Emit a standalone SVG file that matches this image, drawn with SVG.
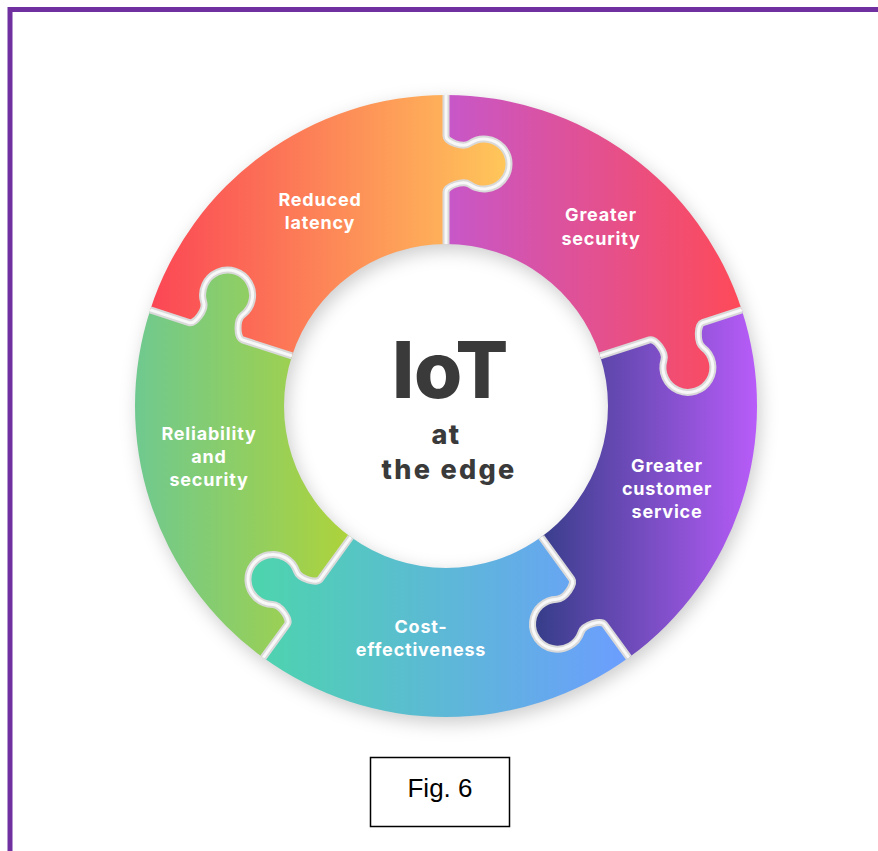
<svg xmlns="http://www.w3.org/2000/svg" xmlns:xlink="http://www.w3.org/1999/xlink" width="878" height="851" viewBox="0 0 878 851">
  <style>
    .lbl { font-family: Inter, "Open Sans", "DejaVu Sans", sans-serif; font-weight: 700; font-size: 18px; fill: #ffffff; text-anchor: middle; letter-spacing: 0.8px; }
    .ctr { font-family: Inter, "Open Sans", "DejaVu Sans", sans-serif; font-weight: 800; fill: #3a3a3a; text-anchor: middle; }
    .seamA { fill: none; stroke: #d9d9d9; stroke-width: 7; }
    .seamB { fill: none; stroke: #f8f8f8; stroke-width: 3; }
    .fig { font-family: "Liberation Sans", Arial, sans-serif; font-size: 26px; fill: #000; text-anchor: middle; }
  </style>
  <defs>
    <filter id="blur" x="-20%" y="-20%" width="140%" height="140%">
      <feGaussianBlur stdDeviation="9"/>
    </filter>
    <linearGradient id="g0" gradientUnits="userSpaceOnUse" x1="1" y1="0" x2="296" y2="0">
      <stop offset="0" stop-color="#c757c9"/>
      <stop offset="1" stop-color="#fe4a58"/>
    </linearGradient>
    <linearGradient id="g1" gradientUnits="userSpaceOnUse" x1="95" y1="0" x2="311" y2="0" gradientTransform="rotate(-72)">
      <stop offset="0" stop-color="#393e8c"/>
      <stop offset="1" stop-color="#b85cf9"/>
    </linearGradient>
    <linearGradient id="g2" gradientUnits="userSpaceOnUse" x1="-183" y1="0" x2="183" y2="0" gradientTransform="rotate(-144)">
      <stop offset="0" stop-color="#4ed3af"/>
      <stop offset="1" stop-color="#6c9dff"/>
    </linearGradient>
    <linearGradient id="g3" gradientUnits="userSpaceOnUse" x1="-311" y1="0" x2="-95" y2="0" gradientTransform="rotate(-216)">
      <stop offset="0" stop-color="#6fc98f"/>
      <stop offset="1" stop-color="#aed33a"/>
    </linearGradient>
    <linearGradient id="g4" gradientUnits="userSpaceOnUse" x1="-296" y1="0" x2="64" y2="0" gradientTransform="rotate(-288)">
      <stop offset="0" stop-color="#fb4655"/>
      <stop offset="1" stop-color="#ffc85a"/>
    </linearGradient>
    <path id="piece" d="M 0,-311 A 311 311 0 0 1 295.78,-96.10 L 256.79,-83.43 C 251.08,-81.58 250.56,-63.43 256.97,-58.58 A 25 25 0 1 1 217.98,-45.91 C 220.32,-53.61 209.23,-67.98 203.53,-66.13 L 154.07,-50.06 A 162 162 0 0 0 0,-162 L 0,-214 C 0,-220 17.1,-226.1 23.7,-221.5 A 25 25 0 1 0 23.7,-262.5 C 17.1,-257.9 0,-264 0,-270 Z"/>
    <path id="seam" d="M 0,-311 L 0,-270 C 0,-264 17.1,-257.9 23.7,-262.5 A 25 25 0 1 1 23.7,-221.5 C 17.1,-226.1 0,-220 0,-214 L 0,-162"/>
  </defs>

  <rect x="0" y="0" width="878" height="851" fill="#ffffff"/>
  <rect id="frame" x="10" y="9.5" width="900" height="900" fill="none" stroke="#7030a0" stroke-width="5"/>

  <path id="ring-shadow" transform="translate(3 6)" fill="#000" fill-opacity="0.2" fill-rule="evenodd" filter="url(#blur)"
        d="M 446,95 A 311 311 0 1 1 446,717 A 311 311 0 1 1 446,95 Z M 446,244 A 162 162 0 1 0 446,568 A 162 162 0 1 0 446,244 Z"/>

  <g id="node-greater-security">
    <use xlink:href="#piece" href="#piece" fill="url(#g0)" transform="translate(446 406) rotate(0)"/>
    <text class="lbl" x="601" y="221">Greater</text>
    <text class="lbl" x="601" y="245">security</text>
  </g>
  <g id="node-customer-service">
    <use xlink:href="#piece" href="#piece" fill="url(#g1)" transform="translate(446 406) rotate(72)"/>
    <text class="lbl" x="667" y="472">Greater</text>
    <text class="lbl" x="667" y="495">customer</text>
    <text class="lbl" x="667" y="518">service</text>
  </g>
  <g id="node-cost-effectiveness">
    <use xlink:href="#piece" href="#piece" fill="url(#g2)" transform="translate(446 406) rotate(144)"/>
    <text class="lbl" x="421" y="633">Cost-</text>
    <text class="lbl" x="421" y="656">effectiveness</text>
  </g>
  <g id="node-reliability">
    <use xlink:href="#piece" href="#piece" fill="url(#g3)" transform="translate(446 406) rotate(216)"/>
    <text class="lbl" x="209" y="440">Reliability</text>
    <text class="lbl" x="209" y="463">and</text>
    <text class="lbl" x="209" y="486">security</text>
  </g>
  <g id="node-reduced-latency">
    <use xlink:href="#piece" href="#piece" fill="url(#g4)" transform="translate(446 406) rotate(288)"/>
    <text class="lbl" x="320" y="206">Reduced</text>
    <text class="lbl" x="320" y="229">latency</text>
  </g>

  <g id="connectors">
    <use xlink:href="#seam" href="#seam" class="seamA" transform="translate(446 406) rotate(0)"/>
    <use xlink:href="#seam" href="#seam" class="seamA" transform="translate(446 406) rotate(72)"/>
    <use xlink:href="#seam" href="#seam" class="seamA" transform="translate(446 406) rotate(144)"/>
    <use xlink:href="#seam" href="#seam" class="seamA" transform="translate(446 406) rotate(216)"/>
    <use xlink:href="#seam" href="#seam" class="seamA" transform="translate(446 406) rotate(288)"/>
    <use xlink:href="#seam" href="#seam" class="seamB" transform="translate(446 406) rotate(0)"/>
    <use xlink:href="#seam" href="#seam" class="seamB" transform="translate(446 406) rotate(72)"/>
    <use xlink:href="#seam" href="#seam" class="seamB" transform="translate(446 406) rotate(144)"/>
    <use xlink:href="#seam" href="#seam" class="seamB" transform="translate(446 406) rotate(216)"/>
    <use xlink:href="#seam" href="#seam" class="seamB" transform="translate(446 406) rotate(288)"/>
  </g>

  <g id="node-center">
    <text class="ctr" x="450" y="398" font-size="78" letter-spacing="-0.5">IoT</text>
    <text class="ctr" x="446" y="444" font-size="27" letter-spacing="1.5">at</text>
    <text class="ctr" x="449" y="479" font-size="27" letter-spacing="2.3">the edge</text>
  </g>

  <g id="node-fig">
    <rect x="370.5" y="757.5" width="139" height="69" fill="#ffffff" stroke="#000000" stroke-width="1.5"/>
    <text class="fig" x="440" y="797">Fig. 6</text>
  </g>
</svg>
